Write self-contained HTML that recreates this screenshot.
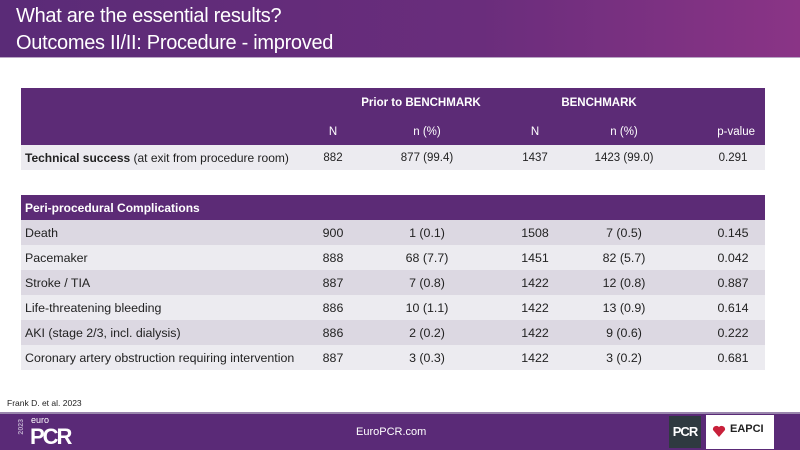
<!DOCTYPE html>
<html><head><meta charset="utf-8">
<style>
*{margin:0;padding:0;box-sizing:border-box}
body{width:800px;height:450px;overflow:hidden;background:#fff;font-family:"Liberation Sans",sans-serif;position:relative}
#hdr{position:absolute;left:0;top:0;width:800px;height:58px;background:linear-gradient(90deg,#5a2b77 0%,#6a2d7c 60%,#8a3486 100%);border-bottom:1px solid #b9a6c4}
#hdr div{position:absolute;left:16px;color:#fff;font-size:20px;letter-spacing:-0.3px}
table{position:absolute;left:21px;border-collapse:collapse;width:744px;font-size:11.5px;color:#222;table-layout:fixed}
td{height:25px;padding:0 4px;white-space:nowrap}
.c{text-align:center}
.p{text-align:center;padding-left:30px}
.ph td{background:#5c2b76;color:#fff}
.g1 td{background:#dcd8e2}
.g2 td{background:#ecebf0}
.big td{font-size:12.4px}
#foot{position:absolute;left:0;top:412px;width:800px;height:38px;background:#5a2a77;border-top:2px solid #9a86ad}
</style></head><body>
<div id="hdr">
<div style="top:5px">What are the essential results?</div>
<div style="top:32px">Outcomes II/II: Procedure - improved</div>
</div>

<table style="top:88px">
<colgroup><col style="width:288px"><col style="width:48px"><col style="width:140px"><col style="width:76px"><col style="width:102px"><col></colgroup>
<tr class="ph" style="font-weight:bold"><td style="height:30px"></td><td colspan="2" class="c" style="padding-left:40px">Prior to BENCHMARK</td><td colspan="2" class="c" style="padding-left:30px">BENCHMARK</td><td></td></tr>
<tr class="ph"><td style="height:27px"></td><td class="c">N</td><td class="c">n (%)</td><td class="c">N</td><td class="c">n (%)</td><td class="c" style="text-align:right;padding-right:10px">p-value</td></tr>
<tr class="g2"><td style="font-size:12px"><b>Technical success</b> (at exit from procedure room)</td><td class="c">882</td><td class="c">877 (99.4)</td><td class="c">1437</td><td class="c">1423 (99.0)</td><td class="p">0.291</td></tr>
</table>

<table style="top:195px">
<colgroup><col style="width:288px"><col style="width:48px"><col style="width:140px"><col style="width:76px"><col style="width:102px"><col></colgroup>
<tr class="ph"><td colspan="6" style="font-size:12px"><b>Peri-procedural Complications</b></td></tr>
<tr class="g1 big"><td>Death</td><td class="c">900</td><td class="c">1 (0.1)</td><td class="c">1508</td><td class="c">7 (0.5)</td><td class="p">0.145</td></tr>
<tr class="g2 big"><td>Pacemaker</td><td class="c">888</td><td class="c">68 (7.7)</td><td class="c">1451</td><td class="c">82 (5.7)</td><td class="p">0.042</td></tr>
<tr class="g1 big"><td>Stroke / TIA</td><td class="c">887</td><td class="c">7 (0.8)</td><td class="c">1422</td><td class="c">12 (0.8)</td><td class="p">0.887</td></tr>
<tr class="g2 big"><td>Life-threatening bleeding</td><td class="c">886</td><td class="c">10 (1.1)</td><td class="c">1422</td><td class="c">13 (0.9)</td><td class="p">0.614</td></tr>
<tr class="g1 big"><td>AKI (stage 2/3, incl. dialysis)</td><td class="c">886</td><td class="c">2 (0.2)</td><td class="c">1422</td><td class="c">9 (0.6)</td><td class="p">0.222</td></tr>
<tr class="g2 big"><td>Coronary artery obstruction requiring intervention</td><td class="c">887</td><td class="c">3 (0.3)</td><td class="c">1422</td><td class="c">3 (0.2)</td><td class="p">0.681</td></tr>
</table>

<div style="position:absolute;left:7px;top:398px;font-size:8.5px;color:#222">Frank D. et al. 2023</div>

<div id="foot">
<div style="position:absolute;left:18px;top:5px;width:9px;font-size:7px;color:#b9a6c8;writing-mode:vertical-rl;transform:rotate(180deg);font-weight:bold">2023</div>
<div style="position:absolute;left:31px;top:1px;font-size:9px;color:#fff">euro</div>
<div style="position:absolute;left:30px;top:10px;font-size:22px;color:#fff;font-weight:bold;letter-spacing:-2px">PCR</div>
<div style="position:absolute;left:356px;top:12px;font-size:11px;color:#fff">EuroPCR.com</div>
<div style="position:absolute;left:669px;top:2px;width:32px;height:32px;background:#2f3a40;color:#fff;font-size:13px;font-weight:bold;text-align:center;line-height:32px;letter-spacing:-1px">PCR</div>
<div style="position:absolute;left:706px;top:1px;width:68px;height:34px;background:#fff">
<svg width="16" height="16" style="position:absolute;left:5px;top:8px"><path d="M8 14 L2 7 A3.5 3.5 0 0 1 8 4 A3.5 3.5 0 0 1 14 7 Z" fill="#c8203a"/></svg>
<span style="position:absolute;left:24px;top:8px;font-size:11px;font-weight:bold;color:#222">EAPCI</span>
</div>
</div>
</body></html>
